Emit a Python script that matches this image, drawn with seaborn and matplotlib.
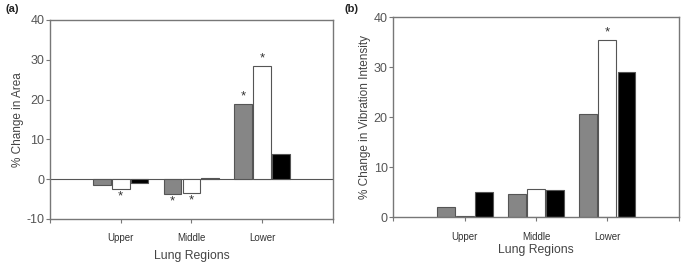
import matplotlib
matplotlib.use("Agg")
import matplotlib.pyplot as plt
import seaborn as sns
import pandas as pd

categories = ["Upper", "Middle", "Lower"]
groups = ["Group 1", "Group 2", "Group 3"]

area_g1 = [-1.5, -3.8, 18.8]
area_g2 = [-2.6, -3.6, 28.4]
area_g3 = [-1.0, 0.4, 6.3]
area_stars_g1 = ["", "*", "*"]
area_stars_g2 = ["*", "*", "*"]
area_stars_g3 = ["", "", ""]

vib_g1 = [2.1, 4.7, 20.7]
vib_g2 = [0.27, 5.7, 35.5]
vib_g3 = [5.1, 5.5, 29.1]
vib_stars_g1 = ["", "", ""]
vib_stars_g2 = ["", "", "*"]
vib_stars_g3 = ["", "", ""]

palette = ["#868686", "#ffffff", "#000000"]

def long_df(a, b, c):
    rows = []
    for g, vals in zip(groups, [a, b, c]):
        for cat, v in zip(categories, vals):
            rows.append({"Region": cat, "Group": g, "Value": v})
    return pd.DataFrame(rows)

sns.set_style("white")
plt.rcParams["font.family"] = ["Liberation Sans", "DejaVu Sans"]
plt.rcParams["axes.unicode_minus"] = False

fig = plt.figure(figsize=(6.85, 2.66), dpi=100)
axA = fig.add_axes([0.073, 0.177, 0.413, 0.748])
axB = fig.add_axes([0.574, 0.184, 0.417, 0.752])

def draw(ax, df, stars, ylim, yticks, ylabel, label_y, xpad):
    sns.barplot(data=df, x="Region", y="Value", hue="Group", order=categories,
                hue_order=groups, palette=palette, edgecolor="#555555",
                linewidth=0.8, width=0.8, gap=0.06, legend=False, ax=ax,
                errorbar=None, saturation=1)
    for cont, labs in zip(ax.containers, stars):
        ax.bar_label(cont, labels=labs, padding=1, fontsize=9.5, color="#333333")
    ax.set_xlim(-1, 3)
    ax.set_ylim(*ylim)
    ax.set_yticks(yticks)
    ax.set_xticks([-1, 0, 1, 2, 3])
    ax.set_xticklabels(["", "Upper", "Middle", "Lower", ""], fontsize=7, color="#333333")
    ax.tick_params(axis="x", length=3, width=0.8, color="#777777", pad=xpad, direction="out", bottom=True)
    ax.tick_params(axis="y", length=3, width=0.8, color="#777777", labelsize=9,
                   labelcolor="#555555", pad=1, direction="out", left=True)
    for s in ax.spines.values():
        s.set_visible(True)
        s.set_color("#777777")
        s.set_linewidth(1.0)
    ax.set_ylabel(ylabel, fontsize=8.5, color="#444444", labelpad=2)
    ax.set_xlabel("Lung Regions", fontsize=8.8, color="#444444", labelpad=label_y)

draw(axA, long_df(area_g1, area_g2, area_g3),
     [area_stars_g1, area_stars_g2, area_stars_g3],
     (-10, 40), [-10, 0, 10, 20, 30, 40], "% Change in Area", 5, 7)
axA.axhline(0, color="#555555", lw=0.8, zorder=0.5)

draw(axB, long_df(vib_g1, vib_g2, vib_g3),
     [vib_stars_g1, vib_stars_g2, vib_stars_g3],
     (0, 40), [0, 10, 20, 30, 40], "% Change in Vibration Intensity", 1, 8)

fig.text(0.008, 0.955, "(a)", fontsize=8, fontweight="bold", color="#222222")
fig.text(0.503, 0.955, "(b)", fontsize=8, fontweight="bold", color="#222222")

fig.savefig("out.png", dpi=100)
